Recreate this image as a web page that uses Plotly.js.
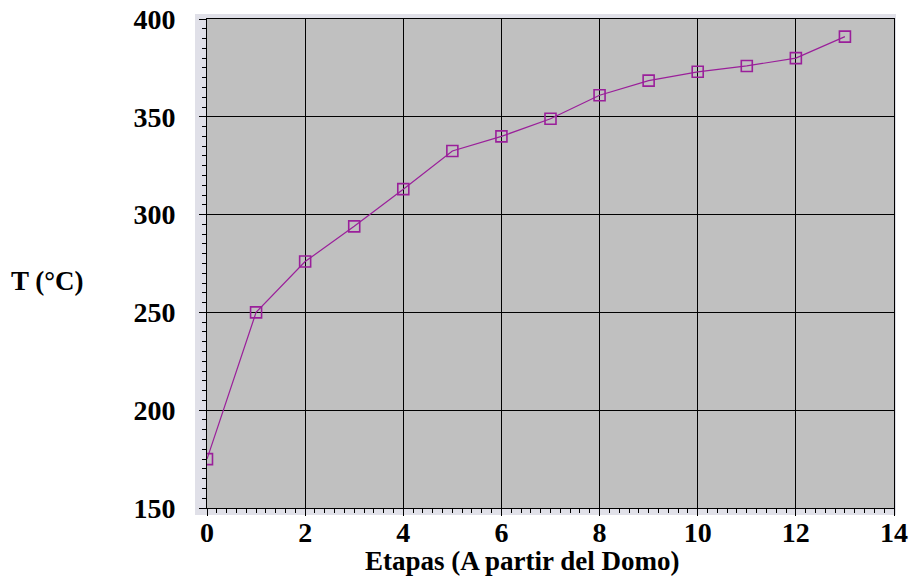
<!DOCTYPE html>
<html>
<head>
<meta charset="utf-8">
<script src="https://cdn.plot.ly/plotly-3.0.1.min.js"></script>
<style>html,body{margin:0;padding:0;background:#fff;}#chart{width:912px;height:577px;}</style>
</head>
<body>
<div id="chart"></div>
<script>
const etapas = [0, 1, 2, 3, 4, 5, 6, 7, 8, 9, 10, 11, 12, 13];
const temperatura = [175, 250, 276, 294, 313, 332.5, 340, 349, 361, 368.5, 373, 376, 380, 391];
const xTitle = 'Etapas (A partir del Domo)';
const yTitle = 'T (°C)';

const font = '"Liberation Serif", "Times New Roman", serif';

const trace = {
  x: etapas, y: temperatura, type: 'scatter', mode: 'lines+markers',
  line: {color: '#9a1f9a', width: 1.2},
  marker: {symbol: 'square-open', size: 11, color: '#9a1f9a', line: {width: 1.6, color: '#9a1f9a'}},
  hoverinfo: 'x+y'
};

const layout = {
  width: 912, height: 577,
  margin: {l: 207, r: 18, t: 19, b: 69, pad: 0},
  paper_bgcolor: '#ffffff',
  plot_bgcolor: 'rgba(0,0,0,0)',
  showlegend: false,
  xaxis: {
    range: [0, 14], dtick: 2, tick0: 0,
    showgrid: true, gridcolor: '#000000', gridwidth: 1,
    zeroline: false, showline: true, linecolor: '#000000', linewidth: 1, mirror: true,
    ticks: 'outside', ticklen: 7, tickcolor: '#000000', tickwidth: 1,
    minor: {dtick: 0.2, ticks: 'outside', ticklen: 4, tickcolor: '#000000', tickwidth: 1, showgrid: false},
    tickfont: {family: font, size: 28, color: '#000000', weight: 'bold'},
    ticklabelstandoff: -8
  },
  yaxis: {
    range: [150, 400], dtick: 50, tick0: 150,
    showgrid: true, gridcolor: '#000000', gridwidth: 1,
    zeroline: false, showline: true, linecolor: '#000000', linewidth: 1, mirror: true,
    ticks: 'outside', ticklen: 7, tickcolor: '#000000', tickwidth: 1,
    minor: {dtick: 5, ticks: 'outside', ticklen: 4, tickcolor: '#000000', tickwidth: 1, showgrid: false},
    tickfont: {family: font, size: 28, color: '#000000', weight: 'bold'},
    ticklabelstandoff: 18
  },
  shapes: [
    {type: 'rect', xref: 'paper', yref: 'paper', x0: -12/687, x1: 1 + 2/687, y0: -7/489, y1: 1 + 5/489,
     fillcolor: '#e0e0e8', line: {width: 0}, layer: 'below'},
    {type: 'rect', xref: 'paper', yref: 'paper', x0: 0, x1: 1, y0: 0, y1: 1,
     fillcolor: '#c0c0c0', line: {width: 0}, layer: 'below'}
  ],
  annotations: [
    {text: '<b>' + yTitle + '</b>', xref: 'paper', yref: 'paper', x: -198/687, y: (508-281)/489,
     xanchor: 'left', yanchor: 'middle', showarrow: false,
     font: {family: font, size: 27, color: '#000000'}},
    {text: '<b>' + xTitle + '</b>', xref: 'paper', yref: 'paper', x: (522.5-207)/687, y: (508-561)/489,
     xanchor: 'center', yanchor: 'middle', showarrow: false,
     font: {family: font, size: 27, color: '#000000'}}
  ]
};

Plotly.newPlot('chart', [trace], layout, {displayModeBar: false, staticPlot: true});
</script>
</body>
</html>
